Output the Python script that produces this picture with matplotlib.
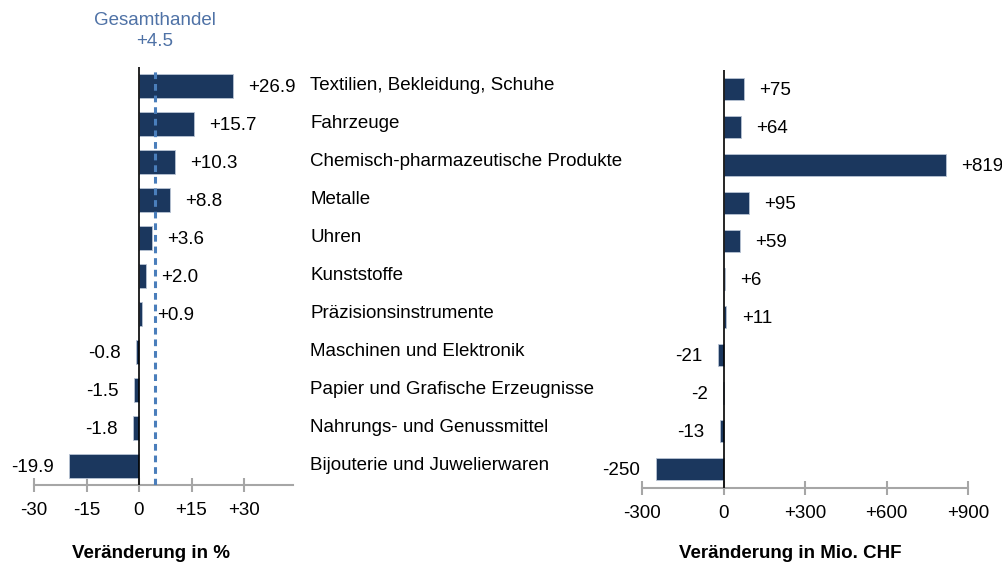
import matplotlib.pyplot as plt
from matplotlib.transforms import blended_transform_factory

plt.rcParams["font.family"] = ["Liberation Sans", "DejaVu Sans"]

categories = [
    "Textilien, Bekleidung, Schuhe",
    "Fahrzeuge",
    "Chemisch-pharmazeutische Produkte",
    "Metalle",
    "Uhren",
    "Kunststoffe",
    "Präzisionsinstrumente",
    "Maschinen und Elektronik",
    "Papier und Grafische Erzeugnisse",
    "Nahrungs- und Genussmittel",
    "Bijouterie und Juwelierwaren",
]
pct_change = [26.9, 15.7, 10.3, 8.8, 3.6, 2.0, 0.9, -0.8, -1.5, -1.8, -19.9]
chf_change = [75, 64, 819, 95, 59, 6, 11, -21, -2, -13, -250]
total_pct = 4.5

pct_ticks = [-30, -15, 0, 15, 30]
pct_ticklabels = ["-30", "-15", "0", "+15", "+30"]
chf_ticks = [-300, 0, 300, 600, 900]
chf_ticklabels = ["-300", "0", "+300", "+600", "+900"]

BAR = "#1b375e"
EDGE = "#b8c3d4"
GRAY = "#a6a6a6"
DASH = "#4a7ebb"
FS = 13.5

fig = plt.figure(figsize=(10.02, 5.65), dpi=100)
W, H = 1002, 565
ax1 = fig.add_axes([34 / W, 1 - 485 / H, 259 / W, 418 / H])
ax2 = fig.add_axes([642 / W, 1 - 488 / H, 326 / W, 418 / H])

ypos = list(range(len(categories)))


def style(ax, ticks, labels, xlim):
    ax.set_xlim(*xlim)
    ax.set_ylim(10.5, -0.5)
    for s in ["top", "right", "left"]:
        ax.spines[s].set_visible(False)
    ax.spines["bottom"].set_color(GRAY)
    ax.spines["bottom"].set_linewidth(1.5)
    ax.set_yticks([])
    ax.set_xticks(ticks)
    ax.set_xticklabels(labels, fontsize=FS)
    ax.tick_params(axis="x", direction="inout", length=10, width=1.5,
                   color=GRAY, pad=7)
    ax.axvline(0, color="black", lw=1.2, zorder=3)


def value_labels(ax, vals, fmt):
    for y, v in zip(ypos, vals):
        off = 11 if v >= 0 else -11
        ax.annotate(fmt(v), (v, y), xytext=(off, -1), textcoords="offset points",
                    ha="left" if v >= 0 else "right", va="center", fontsize=FS)


# Left: percent change
ax1.barh(ypos, pct_change, height=0.63, color=BAR, edgecolor=EDGE,
         linewidth=0.6, zorder=2)
style(ax1, pct_ticks, pct_ticklabels, (-30, 44))
ax1.axvline(total_pct, color=DASH, lw=2.2, dashes=(2.2, 1.6), zorder=4)
value_labels(ax1, pct_change, lambda v: f"{v:+.1f}")

tr = blended_transform_factory(ax1.transData, ax1.transAxes)
ax1.text(total_pct, 1.112, "Gesamthandel", transform=tr, ha="center",
         va="center", fontsize=FS, color="#4f72a6")
ax1.text(total_pct, 1.062, f"+{total_pct}", transform=tr, ha="center",
         va="center", fontsize=FS, color="#4f72a6")

ytr = ax1.get_yaxis_transform()
for y, c in zip(ypos, categories):
    ax1.text(1.066, y, c, transform=ytr, ha="left", va="center", fontsize=FS,
             clip_on=False)

# Right: change in Mio. CHF
ax2.barh(ypos, chf_change, height=0.6, color=BAR, edgecolor=EDGE,
         linewidth=0.6, zorder=2)
style(ax2, chf_ticks, chf_ticklabels, (-300, 900))
value_labels(ax2, chf_change, lambda v: f"{v:+d}")

fig.text(151 / W, 1 - 553 / H, "Veränderung in %", ha="center", va="center",
         fontsize=FS, fontweight="bold")
fig.text(790 / W, 1 - 553 / H, "Veränderung in Mio. CHF", ha="center",
         va="center", fontsize=FS, fontweight="bold")

fig.savefig("out.png", dpi=100)
